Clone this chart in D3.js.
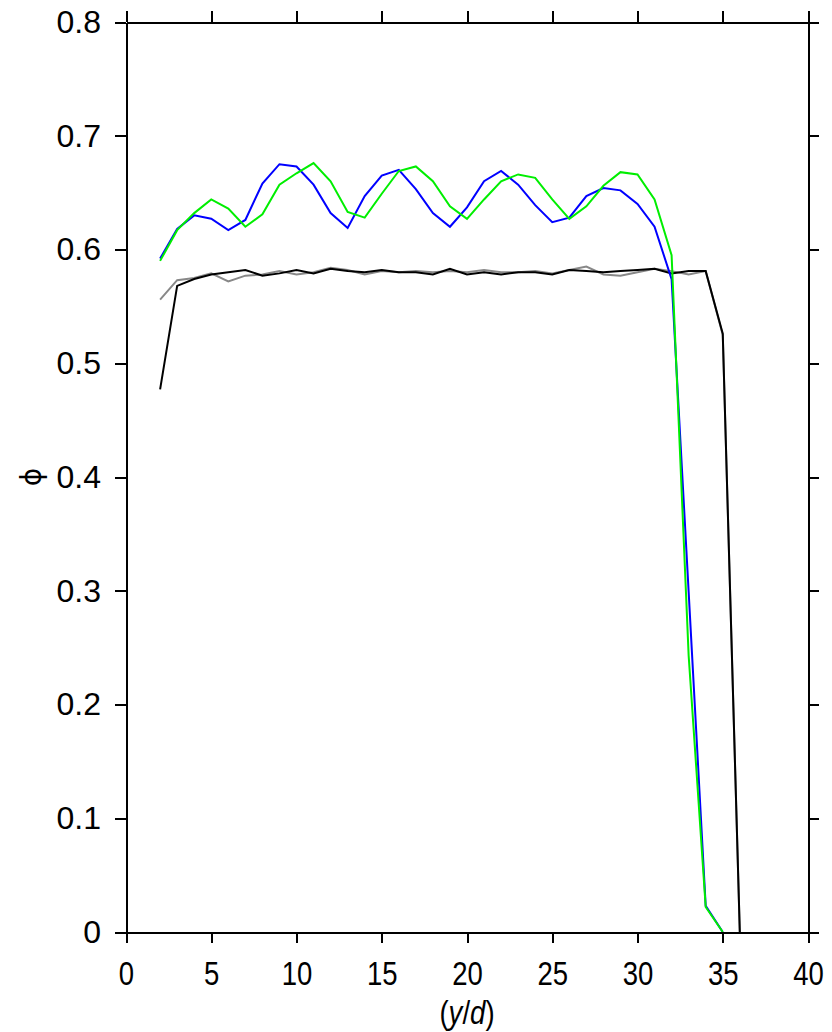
<!DOCTYPE html>
<html>
<head>
<meta charset="utf-8">
<script src="https://cdn.jsdelivr.net/npm/d3@7"></script>
<style>
  body { margin: 0; background: #fff; }
  svg { display: block; }
  .axis path, .axis line { stroke: #000; stroke-width: 2; shape-rendering: crispEdges; }
  .axis text { font-family: "Liberation Sans", Arial, sans-serif; fill: #000; }
  .series { fill: none; stroke-width: 2; stroke-linejoin: miter; }
</style>
</head>
<body>
<svg width="832" height="1032"></svg>
<script>
// positions y/d
var xsBlue = [2,3,4,5,6,7,8,9,10,11,12,13,14,15,16,17,18,19,20,21,22,23,24,25,26,27,28,29,30,31,32,33,34,35];
var blue = [0.592,0.618,0.630,0.627,0.617,0.626,0.658,0.675,0.673,0.657,0.632,0.619,0.647,0.665,0.670,0.653,0.632,0.620,0.637,0.660,0.669,0.657,0.639,0.624,0.628,0.647,0.654,0.652,0.640,0.620,0.574,0.299,0.023,0];
var green = [0.590,0.617,0.632,0.644,0.636,0.620,0.631,0.657,0.667,0.676,0.660,0.633,0.628,0.649,0.669,0.673,0.660,0.638,0.627,0.644,0.660,0.666,0.663,0.644,0.627,0.638,0.656,0.668,0.666,0.644,0.595,0.243,0.022,0];

var xsBlack = [2,3,4,5,6,7,8,9,10,11,12,13,14,15,16,17,18,19,20,21,22,23,24,25,26,27,28,29,30,31,32,33,34,35,36];
var gray = [0.556,0.573,0.575,0.579,0.572,0.577,0.578,0.581,0.578,0.580,0.584,0.582,0.578,0.581,0.580,0.581,0.580,0.581,0.580,0.582,0.580,0.580,0.581,0.579,0.582,0.585,0.578,0.577,0.580,0.583,0.581,0.578,0.581,0.525,0];
var black = [0.477,0.568,0.574,0.578,0.580,0.582,0.577,0.579,0.582,0.579,0.583,0.581,0.580,0.582,0.580,0.580,0.578,0.583,0.578,0.580,0.578,0.580,0.580,0.578,0.582,0.581,0.580,0.581,0.582,0.583,0.579,0.581,0.581,0.526,0];

var xTicks = [0,5,10,15,20,25,30,35,40];
var yTicks = [0,0.1,0.2,0.3,0.4,0.5,0.6,0.7,0.8];

var svg = d3.select("svg"),
  margin = {top: 22, right: 24, bottom: 100, left: 126},
  width = +svg.attr("width") - margin.left - margin.right,
  height = +svg.attr("height") - margin.top - margin.bottom;

var g = svg.append("g").attr("transform", "translate(" + margin.left + "," + margin.top + ")");

var x = d3.scaleLinear().domain([0, 40]).range([0, width]);
var y = d3.scaleLinear().domain([0, 0.8]).range([height, 0]);

var line = d3.line()
  .x(function(d) { return x(d[0]); })
  .y(function(d) { return y(d[1]); });

function draw(xs, ys, color) {
  g.append("path")
    .datum(d3.zip(xs, ys))
    .attr("class", "series")
    .attr("stroke", color)
    .attr("d", line);
}

draw(xsBlack, gray, "#888888");
draw(xsBlack, black, "#000000");
draw(xsBlue, blue, "#0000ff");
draw(xsBlue, green, "#00ee00");

// axes
var xAxis = g.append("g").attr("class", "axis")
  .attr("transform", "translate(0," + height + ")")
  .call(d3.axisBottom(x).tickValues(xTicks).tickSize(11).tickSizeOuter(0).tickPadding(0));

// x labels look a bit tall and narrow in the original
xAxis.selectAll("text")
  .attr("y", null).attr("dy", null)
  .style("font-size", "29px")
  .attr("transform", "translate(0,53) scale(0.95,1.15)");

g.append("g").attr("class", "axis")
  .call(d3.axisLeft(y).tickValues(yTicks).tickSize(11).tickSizeOuter(0).tickPadding(14)
    .tickFormat(function(d) { return d === 0 ? "0" : d3.format(".1f")(d); }))
  .selectAll("text").style("font-size", "32px");

g.append("g").attr("class", "axis")
  .call(d3.axisTop(x).tickValues(xTicks).tickSize(11).tickSizeOuter(0).tickFormat(""));

g.append("g").attr("class", "axis")
  .attr("transform", "translate(" + width + ",0)")
  .call(d3.axisRight(y).tickValues(yTicks).tickSize(11).tickSizeOuter(0).tickFormat(""));

// axis titles
svg.append("text")
  .attr("transform", "translate(" + (margin.left + width / 2) + ",1024) scale(0.95,1.15)")
  .attr("text-anchor", "middle")
  .style("font-family", "Liberation Sans, Arial, sans-serif")
  .style("font-size", "29px")
  .html('(<tspan font-style="italic">y</tspan>/<tspan font-style="italic">d</tspan>)');

svg.append("text")
  .attr("transform", "translate(31," + (margin.top + y(0.4)) + ") rotate(-90)")
  .attr("text-anchor", "middle")
  .attr("dy", "0.35em")
  .style("font-family", "DejaVu Sans, sans-serif")
  .style("font-size", "28px")
  .text("\u03d5");
</script>
</body>
</html>
